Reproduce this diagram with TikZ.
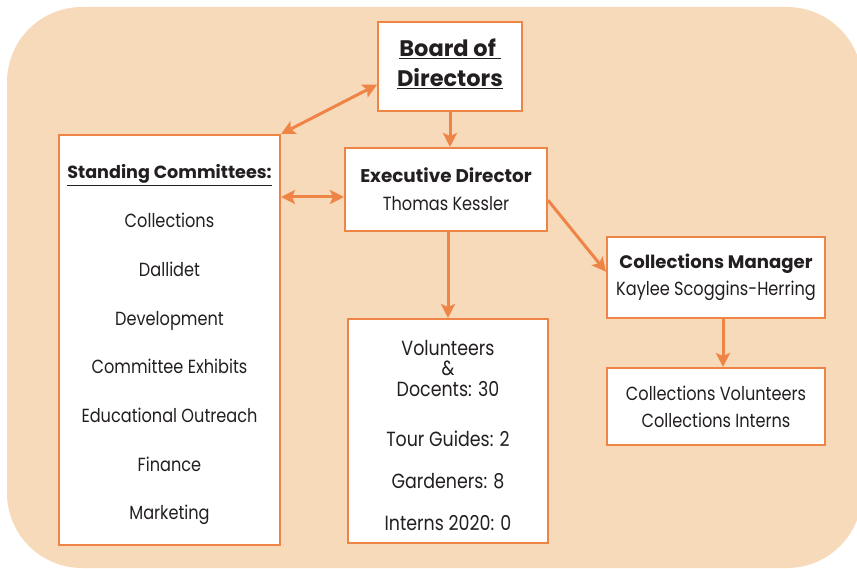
\documentclass[tikz,border=0pt]{standalone}
\usepackage{fontspec}
\setmainfont{Poppins}
\newfontfamily\bodyfont{Poppins}[FakeStretch=0.85]
\usetikzlibrary{arrows.meta}

\definecolor{orgline}{HTML}{EE8446}
\definecolor{orgfill}{HTML}{F7DABA}
\definecolor{inktext}{HTML}{231F20}

\begin{document}
\begin{tikzpicture}[
                            x=1pt, y=-1pt,
                            >={Stealth[length=14pt,width=14pt,inset=3pt]},
                            every node/.style={text=inktext},
                            box/.style={draw=orgline, line width=2pt, fill=white,
                                        align=center, inner sep=0pt},
                            link/.style={->, draw=orgline, line width=3pt},
                            dlink/.style={<->, draw=orgline, line width=3pt}
                        ]
                        \useasboundingbox (0,0) rectangle (857,569);
                        \fill[orgfill, rounded corners=75pt] (7,7) rectangle (862,568);

                        \node[box, minimum width=144pt, minimum height=89pt,
                              font=\fontsize{22.5}{30}\selectfont\bfseries]
                              (board) at (450,66.5) {\underline{Board of }\\\underline{Directors}\rule[-8pt]{0pt}{0pt}};
                        \node[box, minimum width=202pt, minimum height=83pt,
                              font=\fontsize{18.4}{28}\selectfont]
                              (exec) at (446,189.5) {\textbf{Executive Director}\\{\bodyfont\fontsize{19}{28}\selectfont Thomas Kessler}};
                        \node[box, minimum width=221pt, minimum height=410pt,
                              font=\bodyfont\fontsize{19}{48.7}\selectfont]
                              (standing) at (169.5,340) {\rule{0pt}{24pt}{\normalfont\fontsize{17.6}{48.7}\selectfont\bfseries\underline{Standing Committees:}}\\Collections\\Dallidet\\Development\\Committee Exhibits\\Educational Outreach\\Finance\\Marketing};
                        \node[box, minimum width=200pt, minimum height=224pt,
                              font=\bodyfont\fontsize{20.5}{20.5}\selectfont]
                              (volunteers) at (448,431) {\rule{0pt}{24pt}Volunteers\\\&\\Docents: 30\\[29.5pt]Tour Guides: 2\\[21.5pt]Gardeners: 8\\[21.5pt]Interns 2020: 0};
                        \node[box, minimum width=218pt, minimum height=81pt,
                              font=\fontsize{18.1}{27}\selectfont]
                              (manager) at (716,277.5) {\textbf{Collections Manager}\\{\bodyfont\fontsize{19}{27}\selectfont Kaylee Scoggins-Herring}};
                        \node[box, minimum width=218pt, minimum height=77pt,
                              font=\bodyfont\fontsize{19}{27}\selectfont]
                              (collvol) at (716,406.5) {Collections Volunteers\\Collections Interns};

                        \coordinate (side) at ([yshift=-7.5pt]exec.west);

                        \draw[link]  (board.south) -- (board.south |- exec.north);
                        \draw[dlink] (board.194) -- (standing.north east);
                        \draw[dlink] (side) -- (standing.east |- side);
                        \draw[link]  (volunteers.north |- exec.south) -- (volunteers.north);
                        \draw[link]  (exec.-6) -- (manager.177);
                        \draw[link]  ([xshift=7pt]manager.south) -- ([xshift=7pt]collvol.north);
                    \end{tikzpicture}
\end{document}
